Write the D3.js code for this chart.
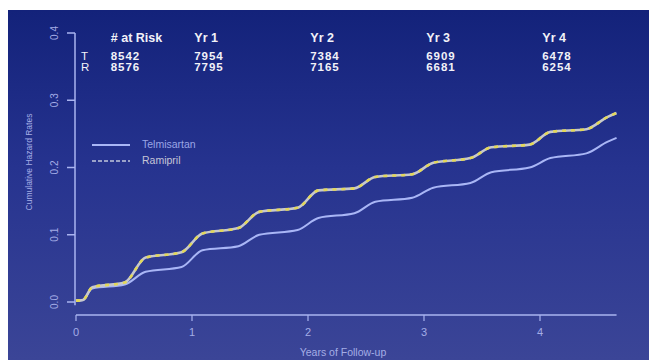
<!DOCTYPE html>
<html>
<head>
<meta charset="utf-8">
<script src="https://cdn.jsdelivr.net/npm/d3@7"></script>
<style>
  html, body { margin: 0; padding: 0; background: #fff; }
  svg { display: block; font-family: Arial, "Liberation Sans", sans-serif; }
</style>
</head>
<body>
<div id="chart"></div>
<script>
'use strict';

// follow-up times (years) where the curves bend
const times = [0, 0.06, 0.14, 0.42, 0.60, 0.91, 1.09, 1.40, 1.58, 1.91, 2.09, 2.40, 2.58, 2.90, 3.08, 3.40, 3.58, 3.91, 4.09, 4.40, 4.58, 4.66];
const telmisartan = [0.002, 0.003, 0.020, 0.026, 0.045, 0.052, 0.077, 0.083, 0.100, 0.107, 0.125, 0.132, 0.149, 0.155, 0.170, 0.177, 0.193, 0.200, 0.214, 0.221, 0.238, 0.244];
const ramipril    = [0.002, 0.003, 0.022, 0.029, 0.066, 0.074, 0.102, 0.110, 0.134, 0.140, 0.166, 0.169, 0.186, 0.190, 0.207, 0.214, 0.230, 0.234, 0.253, 0.257, 0.275, 0.281];

const xTicks = [0, 1, 2, 3, 4];
const yTicks = [0, 0.1, 0.2, 0.3, 0.4];

// numbers at risk table
const riskHeaders = ['# at Risk', 'Yr 1', 'Yr 2', 'Yr 3', 'Yr 4'];
const riskT = [8542, 7954, 7384, 6909, 6478];
const riskR = [8576, 7795, 7165, 6681, 6254];

const W = 649, H = 360;

const svg = d3.select('#chart').append('svg')
    .attr('width', W)
    .attr('height', H);

// background gradient
const grad = svg.append('defs').append('linearGradient')
    .attr('id', 'bg').attr('x1', 0).attr('y1', 0).attr('x2', 0).attr('y2', 1);
grad.append('stop').attr('offset', '0%').attr('stop-color', '#13227a');
grad.append('stop').attr('offset', '45%').attr('stop-color', '#26338f');
grad.append('stop').attr('offset', '100%').attr('stop-color', '#3b4597');

svg.append('rect')
    .attr('x', 8).attr('y', 10)
    .attr('width', W - 8).attr('height', H - 10)
    .attr('fill', 'url(#bg)');

const x = d3.scaleLinear().domain([0, 4.7]).range([76, 76 + 116 * 4.7]);
const y = d3.scaleLinear().domain([0, 0.4]).range([302, 33]);

const axisCol = '#aab4f0';
const labelCol = '#a4ade6';

// y axis (R style, rotated labels)
svg.append('line')
    .attr('x1', 75).attr('x2', 75)
    .attr('y1', y(0.4)).attr('y2', y(-0.005))
    .attr('stroke', axisCol).attr('stroke-width', 1.5);

svg.selectAll('line.ytick').data(yTicks).join('line')
    .attr('class', 'ytick')
    .attr('x1', 67).attr('x2', 75)
    .attr('y1', d => y(d)).attr('y2', d => y(d))
    .attr('stroke', axisCol).attr('stroke-width', 1.5);

svg.selectAll('text.ylab').data(yTicks).join('text')
    .attr('class', 'ylab')
    .attr('transform', d => `translate(58,${y(d)}) rotate(-90)`)
    .attr('text-anchor', 'middle')
    .attr('font-size', 10)
    .attr('fill', labelCol)
    .text(d => d.toFixed(1));

svg.append('text')
    .attr('transform', `translate(32,162) rotate(-90)`)
    .attr('text-anchor', 'middle')
    .attr('font-size', 8.5)
    .attr('fill', labelCol)
    .text('Cumulative Hazard Rates');

// x axis
svg.append('line')
    .attr('x1', x(0)).attr('x2', x(4.66))
    .attr('y1', 315).attr('y2', 315)
    .attr('stroke', axisCol).attr('stroke-width', 1.5);

svg.selectAll('line.xtick').data(xTicks).join('line')
    .attr('class', 'xtick')
    .attr('x1', d => x(d)).attr('x2', d => x(d))
    .attr('y1', 315).attr('y2', 321)
    .attr('stroke', axisCol).attr('stroke-width', 1.2);

svg.selectAll('text.xlab').data(xTicks).join('text')
    .attr('class', 'xlab')
    .attr('x', d => x(d)).attr('y', 336)
    .attr('text-anchor', 'middle')
    .attr('font-size', 11)
    .attr('fill', labelCol)
    .text(d => d);

svg.append('text')
    .attr('x', 343).attr('y', 356)
    .attr('text-anchor', 'middle')
    .attr('font-size', 10.5)
    .attr('fill', labelCol)
    .text('Years of Follow-up');

// curves
const line = d3.line()
    .x(d => x(d[0]))
    .y(d => y(d[1]))
    .curve(d3.curveMonotoneX);

const telData = times.map((t, i) => [t, telmisartan[i]]);
const ramData = times.map((t, i) => [t, ramipril[i]]);

svg.append('path')
    .attr('d', line(telData))
    .attr('fill', 'none')
    .attr('stroke', '#a9b6f6')
    .attr('stroke-width', 2);

svg.append('path')
    .attr('d', line(ramData))
    .attr('fill', 'none')
    .attr('stroke', '#c8c9cc')
    .attr('stroke-width', 2.6);

svg.append('path')
    .attr('d', line(ramData))
    .attr('fill', 'none')
    .attr('stroke', '#e3d85a')
    .attr('stroke-width', 2.6)
    .attr('stroke-dasharray', '4,5');

// legend
const legend = svg.append('g');
legend.append('line')
    .attr('x1', 92).attr('x2', 130).attr('y1', 145).attr('y2', 145)
    .attr('stroke', '#a9b6f6').attr('stroke-width', 2);
legend.append('line')
    .attr('x1', 92).attr('x2', 130).attr('y1', 161).attr('y2', 161)
    .attr('stroke', '#9aa2c8').attr('stroke-width', 2)
    .attr('stroke-dasharray', '4,2');
legend.append('text')
    .attr('x', 142).attr('y', 148)
    .attr('font-size', 10.5).attr('fill', '#9ba6e6')
    .text('Telmisartan');
legend.append('text')
    .attr('x', 142).attr('y', 164)
    .attr('font-size', 10.5).attr('fill', '#c6c6d6')
    .text('Ramipril');

// risk table
const colX = [0.3, 1.02, 2.02, 3.02, 4.02].map(d => x(d));
const table = svg.append('g')
    .attr('fill', '#f2f2f8')
    .attr('font-weight', 'bold');

table.selectAll('text.hdr').data(riskHeaders).join('text')
    .attr('class', 'hdr')
    .attr('x', (d, i) => colX[i]).attr('y', 42)
    .attr('font-size', 12.5)
    .text(d => d);

table.append('text').attr('x', 81).attr('y', 60).attr('font-size', 11.5).attr('font-weight', 'normal').text('T');
table.append('text').attr('x', 81).attr('y', 71).attr('font-size', 11.5).attr('font-weight', 'normal').text('R');

table.selectAll('text.rt').data(riskT).join('text')
    .attr('class', 'rt')
    .attr('x', (d, i) => colX[i]).attr('y', 60)
    .attr('font-size', 11.5)
    .attr('letter-spacing', 0.9)
    .text(d => d);

table.selectAll('text.rr').data(riskR).join('text')
    .attr('class', 'rr')
    .attr('x', (d, i) => colX[i]).attr('y', 71)
    .attr('font-size', 11.5)
    .attr('letter-spacing', 0.9)
    .text(d => d);
</script>
</body>
</html>
